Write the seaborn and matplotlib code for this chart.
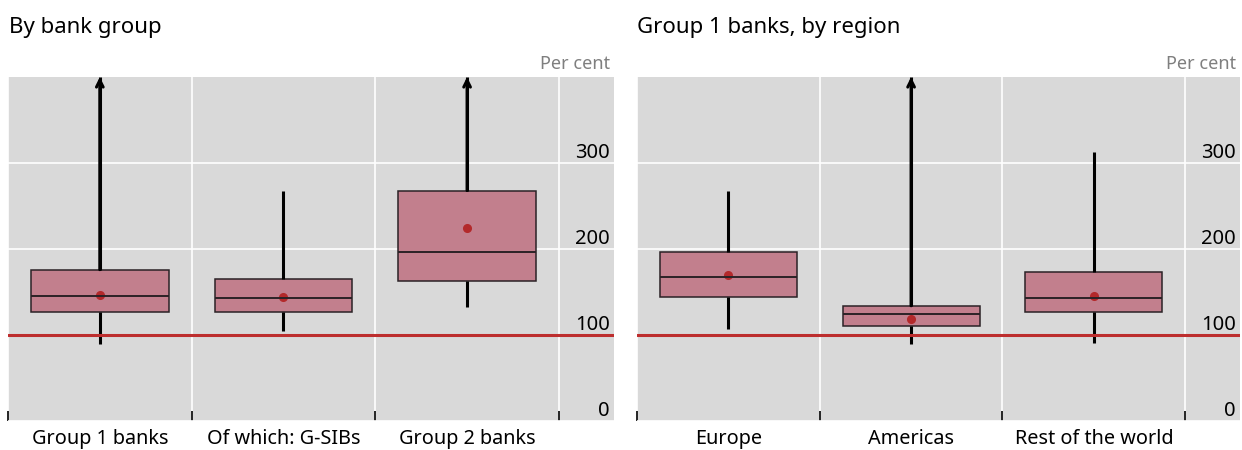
import numpy as np
import pandas as pd
import matplotlib
matplotlib.use('Agg')
import matplotlib.pyplot as plt
import seaborn as sns

# Left panel: by bank group (per cent)
left_cats = ['Group 1 banks', 'Of which: G-SIBs', 'Group 2 banks']
left_low = [90, 105, 133]
left_q1 = [127, 127, 163]
left_med = [145, 143, 196]
left_q3 = [176, 165, 268]
left_high = [400, 267, 400]          # 400 = off the scale
left_off = [True, False, True]
left_mean = [146, 144, 224]

# Right panel: group 1 banks by region
right_cats = ['Europe', 'Americas', 'Rest of the world']
right_low = [107, 90, 91]
right_q1 = [144, 111, 127]
right_med = [167, 125, 143]
right_q3 = [197, 134, 173]
right_high = [267, 400, 313]
right_off = [False, True, False]
right_mean = [170, 119, 145]

minimum_ratio = 100
y_ticks = [0, 100, 200, 300]

BOX = '#C27F8D'
MEAN = '#B3292B'
LINE = '#BD2E2E'
BG = '#D9D9D9'

sns.set_theme(style='white')
plt.rcParams['font.family'] = ['Noto Sans', 'DejaVu Sans']
plt.rcParams['text.color'] = 'black'
plt.rcParams['xtick.color'] = 'black'
plt.rcParams['ytick.color'] = 'black'
plt.rcParams['xtick.labelcolor'] = 'black'
plt.rcParams['ytick.labelcolor'] = 'black'


def draw_panel(ax, cats, low, q1, med, q3, high, off, mean):
    n = len(cats)
    rows = []
    for c, vals in zip(cats, zip(low, q1, med, q3, high)):
        for v in vals:
            rows.append({'cat': c, 'val': v})
    df = pd.DataFrame(rows)
    ax.set_facecolor(BG)
    sns.boxplot(data=df, x='cat', y='val', order=cats, ax=ax, whis=(0, 100),
                width=0.75, showcaps=False, showfliers=False, color=BOX,
                saturation=1,
                boxprops=dict(facecolor=BOX, edgecolor='#2b2226', linewidth=1.1),
                medianprops=dict(color='#2b2226', linewidth=1.4),
                whiskerprops=dict(color='black', linewidth=2.2))
    sns.pointplot(x=cats, y=mean, order=cats, ax=ax, linestyle='none',
                  markers='o', color=MEAN, markersize=4.5, errorbar=None)
    for i in range(n):
        if off[i]:
            ax.annotate('', xy=(i, high[i]), xytext=(i, q3[i]),
                        arrowprops=dict(arrowstyle='->', color='black', lw=2.2,
                                        mutation_scale=12, shrinkA=0, shrinkB=0),
                        annotation_clip=False, zorder=4)
    ax.axhline(minimum_ratio, color=LINE, lw=2.2, zorder=5)

    ax.set_xlim(-0.5, n - 0.2)
    ax.set_ylim(0, 400)
    ax.set_xlabel('')
    ax.set_ylabel('')
    for s in ax.spines.values():
        s.set_visible(False)

    ax.set_xticks(range(n))
    ax.set_xticklabels(cats, fontsize=14.3)
    ax.set_xticks([i - 0.5 for i in range(n + 1)], minor=True)
    ax.tick_params(axis='x', which='major', length=0, pad=6)
    ax.tick_params(axis='x', which='minor', direction='in', length=7,
                   width=1.2, color='black', bottom=True)
    ax.grid(axis='x', which='minor', color='white', lw=1.2)

    ax.set_yticks(y_ticks)
    ax.yaxis.tick_right()
    ax.tick_params(axis='y', length=0, pad=-3, labelsize=14.5)
    for lab in ax.get_yticklabels():
        lab.set_horizontalalignment('right')
        lab.set_verticalalignment('bottom')
    ax.grid(axis='y', which='major', color='white', lw=1.2)
    ax.set_axisbelow(True)
    ax.text(0.994, 1.012, 'Per cent', transform=ax.transAxes, ha='right',
            va='bottom', color='#7f7f7f', fontsize=13)


fig = plt.figure(figsize=(12.42, 4.5), dpi=100)
ax1 = fig.add_axes([8 / 1242, 29 / 450, 606 / 1242, 344 / 450])
ax2 = fig.add_axes([637 / 1242, 29 / 450, 603 / 1242, 344 / 450])

draw_panel(ax1, left_cats, left_low, left_q1, left_med, left_q3,
           left_high, left_off, left_mean)
draw_panel(ax2, right_cats, right_low, right_q1, right_med, right_q3,
           right_high, right_off, right_mean)

fig.text(9 / 1242, 1 - 28 / 450, 'By bank group', fontsize=16, va='center')
fig.text(637 / 1242, 1 - 28 / 450, 'Group 1 banks, by region', fontsize=16,
         va='center')

fig.savefig('out.png', dpi=100)
